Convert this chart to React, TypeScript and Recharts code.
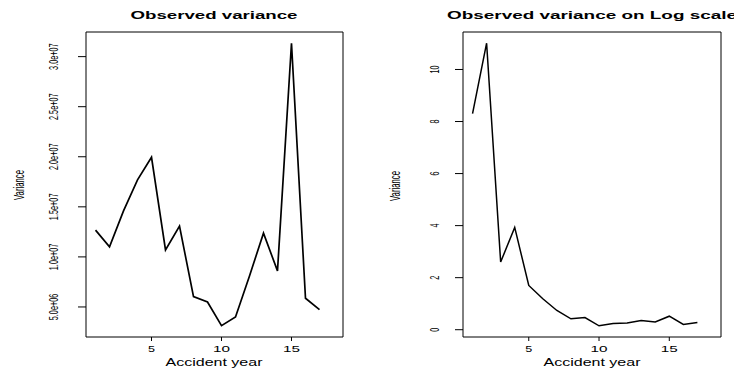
import React from "react";
import { LineChart, Line, XAxis, YAxis, ReferenceArea } from "recharts";

const years = [1, 2, 3, 4, 5, 6, 7, 8, 9, 10, 11, 12, 13, 14, 15, 16, 17];
const observedVariance = [
  12.67e6, 11.0e6, 14.6e6, 17.7e6, 19.95e6, 10.7e6, 13.07e6, 6.03e6, 5.5e6,
  3.13e6, 4.0e6, 8.1e6, 12.37e6, 8.6e6, 31.33e6, 5.87e6, 4.73e6,
];
const logScaleVariance = [
  8.3, 11.01, 2.6, 3.93, 1.7, 1.19, 0.74, 0.42, 0.47, 0.15, 0.24, 0.26, 0.35,
  0.3, 0.52, 0.2, 0.28,
];
const xTicks = [5, 10, 15];
const leftYTicks = [5e6, 1e7, 1.5e7, 2e7, 2.5e7, 3e7];
const leftYTickLabels = ["5.0e+06", "1.0e+07", "1.5e+07", "2.0e+07", "2.5e+07", "3.0e+07"];
const rightYTicks = [0, 2, 4, 6, 8, 10];
const rightYTickLabels = ["0", "2", "4", "6", "8", "10"];

const leftTitle = "Observed variance";
const rightTitle = "Observed variance on Log scale";
const xTitle = "Accident year";
const yTitle = "Variance";

const leftData = years.map((year, i) => ({ year, value: observedVariance[i] }));
const rightData = years.map((year, i) => ({ year, value: logScaleVariance[i] }));

const FONT = "'Liberation Sans', Arial, Helvetica, sans-serif";
const X_DOMAIN: [number, number] = [0.32, 18.68];
const LEFT_Y_DOMAIN: [number, number] = [2.0e6, 3.246e7];
const RIGHT_Y_DOMAIN: [number, number] = [-0.28, 11.44];

const XTick = (props: any) => {
  const { x, y, payload } = props;
  const label = String(payload.value);
  return (
    <text
      x={x}
      y={y + 11}
      textAnchor="middle"
      fontFamily={FONT}
      fontSize={8.5}
      fill="#000"
      textLength={label.length === 1 ? 7 : 17}
      lengthAdjust="spacingAndGlyphs"
    >
      {label}
    </text>
  );
};

const makeYTick = (ticks: number[], labels: string[], dx: number, fontSize: number, perChar: number) => (props: any) => {
  const { x, y, payload } = props;
  const idx = ticks.indexOf(payload.value);
  const label = idx >= 0 ? labels[idx] : String(payload.value);
  return (
    <text
      transform={`translate(${x - dx},${y}) rotate(-90)`}
      textAnchor="middle"
      fontFamily={FONT}
      fontSize={fontSize}
      fill="#000"
      textLength={label.length * perChar}
      lengthAdjust="spacingAndGlyphs"
    >
      {label}
    </text>
  );
};

const LeftYTick = makeYTick(leftYTicks, leftYTickLabels, 20.5, 13, 3.8);
const RightYTick = makeYTick(rightYTicks, rightYTickLabels, 16, 13, 4);

export default function App() {
  return (
    <div style={{ position: "absolute", left: 0, top: 0, width: 734, height: 369, background: "#fff" }}>
      <div style={{ position: "absolute", left: 0, top: 0 }}>
        <LineChart width={367} height={369} data={leftData} margin={{ top: 32, right: 24, bottom: 0, left: 0 }}>
          <XAxis
            type="number"
            dataKey="year"
            domain={X_DOMAIN}
            ticks={xTicks}
            allowDataOverflow
            height={32}
            tickSize={4}
            tickMargin={0}
            axisLine={false}
            tickLine={{ stroke: "#000" }}
            tick={<XTick />}
            interval={0}
          />
          <YAxis
            type="number"
            domain={LEFT_Y_DOMAIN}
            ticks={leftYTicks}
            allowDataOverflow
            width={86}
            tickSize={8}
            tickMargin={0}
            axisLine={false}
            tickLine={{ stroke: "#000" }}
            tick={<LeftYTick />}
            interval={0}
          />
          <ReferenceArea
            x1={X_DOMAIN[0]}
            x2={X_DOMAIN[1]}
            y1={LEFT_Y_DOMAIN[0]}
            y2={LEFT_Y_DOMAIN[1]}
            fill="none"
            stroke="#000"
            strokeWidth={1}
            ifOverflow="visible"
          />
          <Line
            type="linear"
            dataKey="value"
            stroke="#000"
            strokeWidth={1.7}
            dot={false}
            isAnimationActive={false}
          />
        </LineChart>
      </div>
      <div style={{ position: "absolute", left: 367, top: 0 }}>
        <LineChart width={367} height={369} data={rightData} margin={{ top: 32, right: 13, bottom: 0, left: 0 }}>
          <XAxis
            type="number"
            dataKey="year"
            domain={X_DOMAIN}
            ticks={xTicks}
            allowDataOverflow
            height={32}
            tickSize={4}
            tickMargin={0}
            axisLine={false}
            tickLine={{ stroke: "#000" }}
            tick={<XTick />}
            interval={0}
          />
          <YAxis
            type="number"
            domain={RIGHT_Y_DOMAIN}
            ticks={rightYTicks}
            allowDataOverflow
            width={96}
            tickSize={8}
            tickMargin={0}
            axisLine={false}
            tickLine={{ stroke: "#000" }}
            tick={<RightYTick />}
            interval={0}
          />
          <ReferenceArea
            x1={X_DOMAIN[0]}
            x2={X_DOMAIN[1]}
            y1={RIGHT_Y_DOMAIN[0]}
            y2={RIGHT_Y_DOMAIN[1]}
            fill="none"
            stroke="#000"
            strokeWidth={1}
            ifOverflow="visible"
          />
          <Line
            type="linear"
            dataKey="value"
            stroke="#000"
            strokeWidth={1.5}
            dot={false}
            isAnimationActive={false}
          />
        </LineChart>
      </div>
      <svg
        width={734}
        height={369}
        style={{ position: "absolute", left: 0, top: 0, pointerEvents: "none" }}
      >
        <text x={214} y={19} textAnchor="middle" fontFamily={FONT} fontWeight="bold" fontSize={10} textLength={167} lengthAdjust="spacingAndGlyphs" fill="#000">
          {leftTitle}
        </text>
        <text x={592} y={19} textAnchor="middle" fontFamily={FONT} fontWeight="bold" fontSize={10} textLength={290} lengthAdjust="spacingAndGlyphs" fill="#000">
          {rightTitle}
        </text>
        <text x={214} y={366} textAnchor="middle" fontFamily={FONT} fontSize={10} textLength={97} lengthAdjust="spacingAndGlyphs" fill="#000">
          {xTitle}
        </text>
        <text x={592} y={366} textAnchor="middle" fontFamily={FONT} fontSize={10} textLength={97} lengthAdjust="spacingAndGlyphs" fill="#000">
          {xTitle}
        </text>
        <text transform="translate(23.5,185) rotate(-90)" textAnchor="middle" fontFamily={FONT} fontSize={15} textLength={30} lengthAdjust="spacingAndGlyphs" fill="#000">
          {yTitle}
        </text>
        <text transform="translate(400,186) rotate(-90)" textAnchor="middle" fontFamily={FONT} fontSize={15} textLength={30} lengthAdjust="spacingAndGlyphs" fill="#000">
          {yTitle}
        </text>
      </svg>
    </div>
  );
}
